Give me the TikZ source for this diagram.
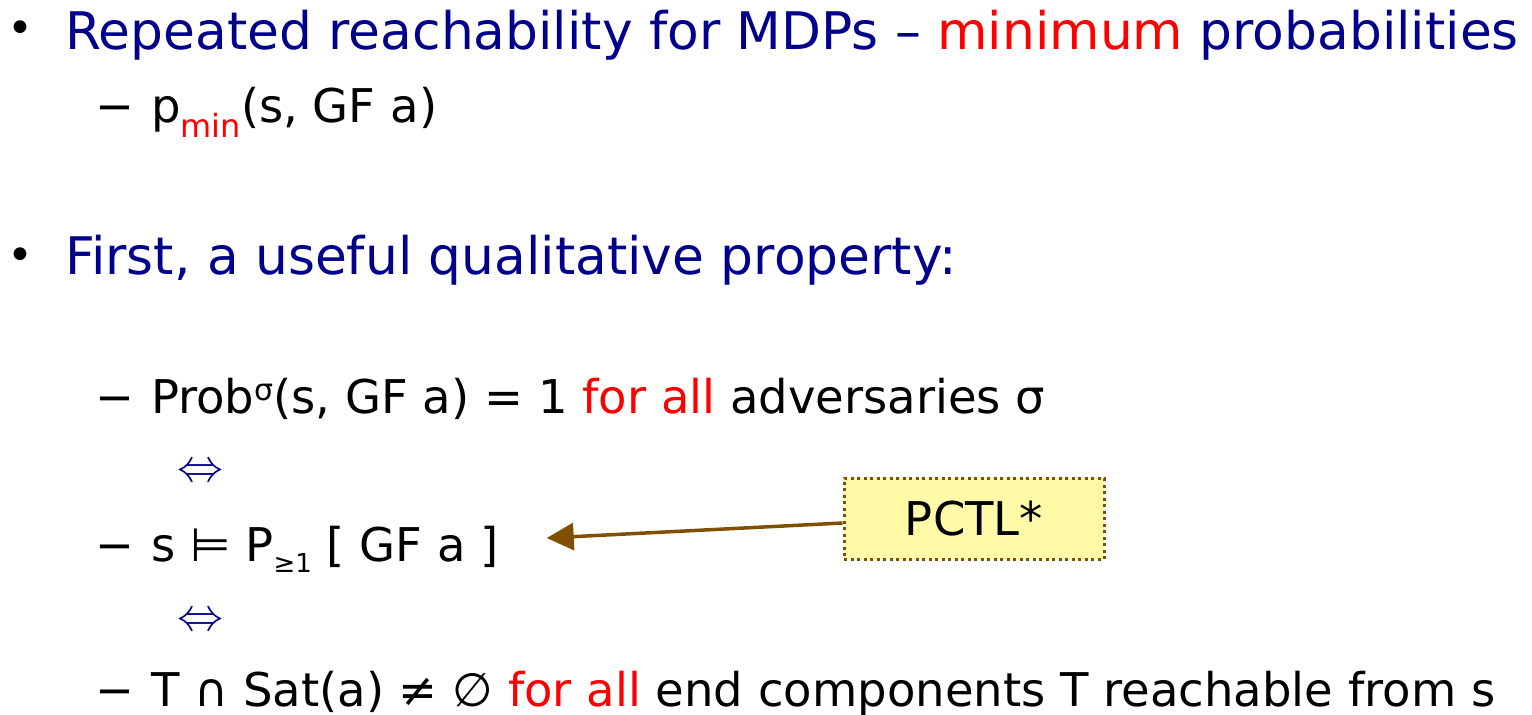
\documentclass[tikz,border=0pt]{standalone}
\usepackage{fontspec}
\setmainfont{DejaVu Sans}
\usepackage{xcolor}
\usepackage{graphicx}
\usetikzlibrary{positioning,arrows.meta}

\definecolor{slideblue}{RGB}{0,0,140}
\definecolor{slidered}{RGB}{255,0,0}
\definecolor{notebrown}{RGB}{128,80,0}
\definecolor{noteyellow}{RGB}{255,250,168}

\newcommand{\levelone}{\fontsize{51.8}{60}\selectfont}
\newcommand{\leveltwo}{\fontsize{46.5}{54}\selectfont}
\newcommand{\lowidx}[3]{\raisebox{-#1}{\fontsize{#2}{#2}\selectfont #3}}
\newcommand{\highidx}[1]{\raisebox{13pt}{\fontsize{30}{30}\selectfont #1}}
\newcommand{\bigiff}{\scalebox{4.6}{$\Leftrightarrow$}}

\begin{document}
\begin{tikzpicture}[x=1pt, y=-1pt,
    heading/.style={anchor=base west, inner sep=0pt, text=slideblue, font=\levelone},
    itemtext/.style={anchor=base west, inner sep=0pt, font=\leveltwo},
    bulletdot/.style={inner sep=0pt, font=\fontsize{44}{44}\selectfont},
    minusmark/.style={anchor=base west, inner sep=0pt, font=\leveltwo},
    equiv/.style={inner sep=0pt, text=slideblue},
    note/.style={draw=notebrown, fill=noteyellow, line width=3pt, dash pattern=on 3pt off 3.5pt,
        minimum width=260pt, minimum height=81pt, inner sep=0pt, font=\leveltwo},
    line/.style={-{Triangle[length=27pt, width=27pt]}, draw=notebrown, line width=3.5pt}
]
\useasboundingbox (0,0) rectangle (1532,715);

% first bullet
\node[bulletdot] (dot1) at (20,32) {•};
\node[heading] (title1) at (65,49) {Repeated reachability for MDPs – \textcolor{slidered}{minimum} probabilities};
\node[minusmark] (minus1) at (95,122) {−};
\node[itemtext] (pmin) at (151,122) {p\lowidx{15pt}{32}{\textcolor{slidered}{min}}(s, GF a)};

% second bullet
\node[bulletdot] (dot2) at (20,259) {•};
\node[heading] (title2) at (65,274) {First, a useful qualitative property:};
\node[minusmark] (minus2) at (95,413) {−};
\node[itemtext] (prob) at (151,413) {Prob\highidx{σ}(s, GF a) = 1 \textcolor{slidered}{for all} adversaries σ};
\node[equiv] (iff1) at (200,473) {\bigiff};
\node[minusmark] (minus3) at (95,561) {−};
\node[itemtext] (pgeq) at (151,561) {s ⊨ P\lowidx{11pt}{26}{≥1} [ GF a ]};
\node[equiv] (iff2) at (200,622) {\bigiff};
\node[minusmark] (minus4) at (95,706) {−};
\node[itemtext] (ecs) at (151,706) {T ∩ Sat(a) ≠ ∅ \textcolor{slidered}{for all} end components T reachable from s};

% note
\node[note] (pctl) at (974,518.5) {PCTL*};
\coordinate (tip) at ([xshift=48pt, yshift=23pt]pgeq.base east);
\draw[line] ([yshift=-4.5pt]pctl.west) -- (tip);
\end{tikzpicture}
\end{document}
